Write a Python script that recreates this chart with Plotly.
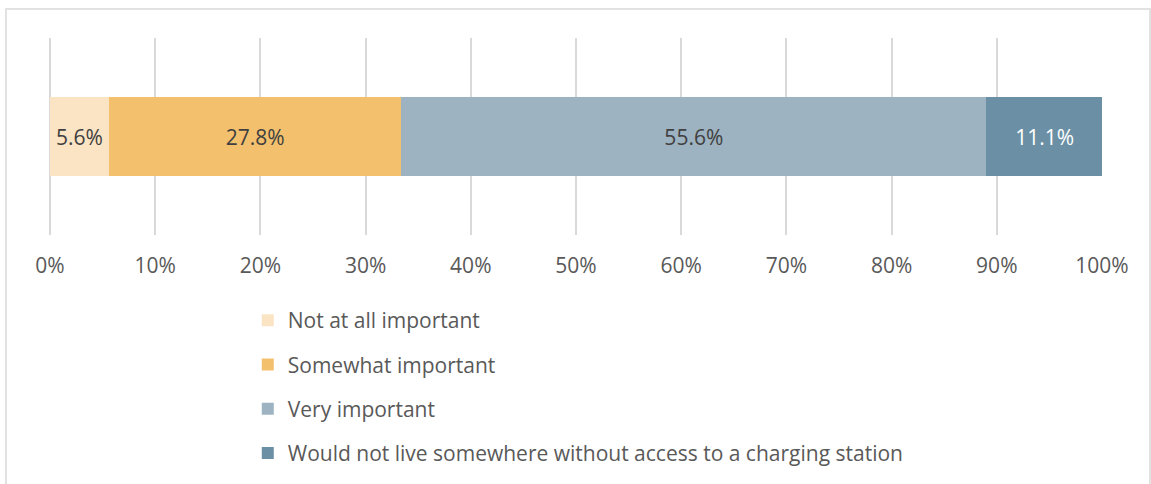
import plotly.graph_objects as go

# Survey responses: importance of charging station access
categories = [
    "Not at all important",
    "Somewhat important",
    "Very important",
    "Would not live somewhere without access to a charging station",
]
shares = [5.6, 27.8, 55.6, 11.1]
colors = ["#FAE4C4", "#F3C06D", "#9DB3C1", "#6B90A5"]
label_colors = ["#404040", "#404040", "#404040", "#FFFFFF"]
tick_values = list(range(0, 101, 10))
tick_labels = [f"{v}%" for v in tick_values]

FONT = "'Open Sans', sans-serif"
FS = 21

fig = go.Figure()
for i, (name, val, col, lc) in enumerate(zip(categories, shares, colors, label_colors)):
    fig.add_trace(go.Bar(
        x=[val],
        y=["row"],
        orientation="h",
        name=name,
        legendgroup=f"g{i}",
        marker=dict(color=col, line=dict(width=0)),
        text=[f"{val:.1f}%"],
        textposition="inside",
        insidetextanchor="middle",
        textfont=dict(family=FONT, size=FS, color=lc),
        constraintext="none",
        hoverinfo="skip",
    ))

W, H = 1151, 484
L, R, T, B = 50, 49, 38, 249

fig.update_layout(
    width=W, height=H,
    margin=dict(l=L, r=R, t=T, b=B, pad=0, autoexpand=False),
    barmode="stack",
    bargap=0.6,
    paper_bgcolor="white",
    plot_bgcolor="white",
    font=dict(family=FONT, size=FS, color="#595959"),
    showlegend=True,
    legend=dict(
        orientation="v",
        x=0.188, xanchor="left",
        yref="container",
        y=(H - 300) / H, yanchor="top",
        traceorder="grouped",
        tracegroupgap=14,
        font=dict(family=FONT, size=FS, color="#595959"),
        bgcolor="rgba(0,0,0,0)",
        borderwidth=0,
    ),
    xaxis=dict(
        range=[0, 100],
        tickvals=tick_values,
        ticktext=tick_labels,
        showgrid=True,
        gridcolor="#D9D9D9",
        gridwidth=1.5,
        zeroline=True,
        zerolinecolor="#D9D9D9",
        zerolinewidth=1.5,
        showline=False,
        ticks="",
        ticklabelstandoff=16,
        tickfont=dict(family=FONT, size=FS, color="#595959"),
        fixedrange=True,
    ),
    yaxis=dict(
        showticklabels=False,
        showgrid=False,
        zeroline=False,
        showline=False,
        fixedrange=True,
    ),
)

# Light frame around the chart area
pw, ph = W - L - R, H - T - B
fig.add_shape(
    type="rect", xref="paper", yref="paper",
    x0=(6 - L) / pw, x1=(1150 - L) / pw,
    y0=(H - B - 500) / ph, y1=(H - B - 9) / ph,
    line=dict(color="#D9D9D9", width=1.5),
    fillcolor="rgba(0,0,0,0)",
    layer="below",
)

fig.write_html("out.html")
